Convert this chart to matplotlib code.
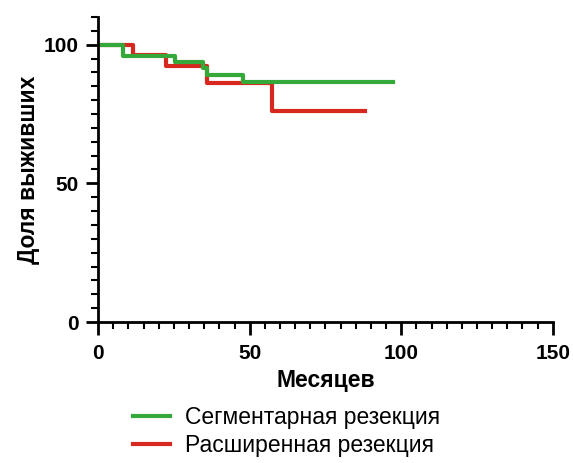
import matplotlib.pyplot as plt
from matplotlib.ticker import MultipleLocator

plt.rcParams['font.family'] = ['Liberation Sans', 'DejaVu Sans']

# survival curves (months, % surviving)
seg_t = [0, 8.2, 25.4, 34.5, 36.0, 47.9, 97.3]
seg_s = [100, 95.8, 93.6, 91.6, 89.2, 86.5, 86.5]
ext_t = [0, 11.6, 22.4, 36.0, 57.3, 88.0]
ext_s = [100, 96.3, 92.4, 86.2, 76.2, 76.2]

green = '#35a83a'
red = '#d6281e'

fig = plt.figure(figsize=(5.74, 4.63), dpi=100)
ax = fig.add_axes([0.171, 0.3045, 0.792, 0.659])

ax.step(ext_t, ext_s, where='post', color=red, lw=3, label='Расширенная резекция')
ax.step(seg_t, seg_s, where='post', color=green, lw=3, label='Сегментарная резекция')

ax.set_xlim(0, 150)
ax.set_ylim(0, 110)
ax.xaxis.set_major_locator(MultipleLocator(50))
ax.xaxis.set_minor_locator(MultipleLocator(5))
ax.yaxis.set_major_locator(MultipleLocator(50))
ax.yaxis.set_minor_locator(MultipleLocator(5))

for s in ['top', 'right']:
    ax.spines[s].set_visible(False)
for s in ['left', 'bottom']:
    ax.spines[s].set_linewidth(2)
ax.tick_params(which='major', length=9, width=2, labelsize=15, pad=5)
ax.tick_params(axis='x', which='major', pad=7)
ax.tick_params(which='minor', length=5, width=1.5)
for lab in ax.get_xticklabels() + ax.get_yticklabels():
    lab.set_fontweight('bold')

ax.set_xlabel('Месяцев', fontsize=16.5, fontweight='bold', labelpad=4)
ax.set_ylabel('Доля выживших', fontsize=16.5, fontweight='bold', labelpad=3)

handles, labels = ax.get_legend_handles_labels()
fig.legend(handles[::-1], labels[::-1], loc='upper left', bbox_to_anchor=(0.215, 0.143),
           frameon=False, fontsize=16.5, handlelength=1.65, handletextpad=0.65,
           labelspacing=0.2, borderaxespad=0)

fig.savefig('out.png', dpi=100)
